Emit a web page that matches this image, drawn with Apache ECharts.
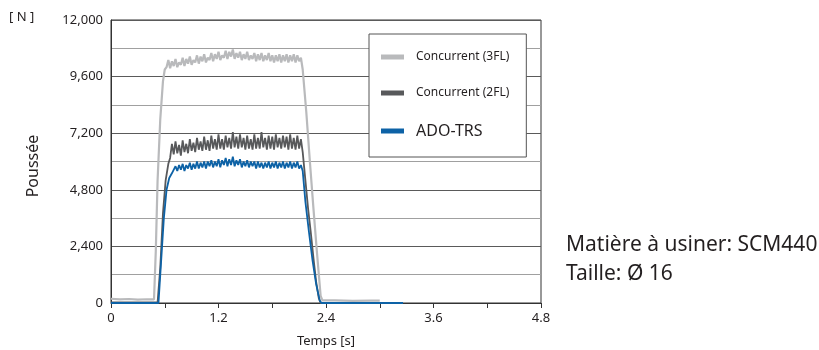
<!DOCTYPE html>
<html>
<head>
<meta charset="utf-8">
<script src="https://cdn.jsdelivr.net/npm/echarts@6/dist/echarts.min.js"></script>
<style>
  html, body { margin: 0; padding: 0; background: #fff; }
  #chart { width: 819px; height: 350px; }
</style>
</head>
<body>
<div id="chart"></div>
<script>
// 读图得到的数据 [时间 s, 推力 N]
const seriesNames = ["Concurrent (3FL)", "Concurrent (2FL)", "ADO-TRS"];
const seriesColors = ["#b9babc", "#58595b", "#0d62a6"];
const xTicks = [0, 1.2, 2.4, 3.6, 4.8];
const yTicks = [0, 2400, 4800, 7200, 9600, 12000];

const concurrent3FL = [
  [0, 180], [0.1, 150], [0.2, 170], [0.3, 140], [0.4, 160], [0.48, 150],
  [0.5, 2200], [0.52, 5200], [0.55, 7800], [0.58, 9400], [0.6, 9900],
  [0.62, 10000], [0.64, 10300], [0.66, 9950], [0.68, 10250], [0.70, 10050],
  [0.72, 10350], [0.74, 10000], [0.76, 10200], [0.78, 10100], [0.80, 10400],
  [0.82, 10050], [0.84, 10350], [0.86, 10150], [0.88, 10450], [0.90, 10100],
  [0.92, 10300], [0.94, 10200], [0.96, 10500], [0.98, 10150], [1.00, 10450],
  [1.02, 10250], [1.04, 10550], [1.06, 10200], [1.08, 10400], [1.10, 10300],
  [1.12, 10600], [1.14, 10250], [1.16, 10550], [1.18, 10350], [1.20, 10650],
  [1.22, 10300], [1.24, 10500], [1.26, 10400], [1.28, 10700], [1.30, 10350],
  [1.32, 10650], [1.34, 10450], [1.36, 10750], [1.38, 10350], [1.40, 10600],
  [1.42, 10400], [1.44, 10650], [1.46, 10300], [1.48, 10550], [1.50, 10350],
  [1.52, 10650], [1.54, 10300], [1.56, 10500], [1.58, 10350], [1.60, 10600],
  [1.62, 10250], [1.64, 10550], [1.66, 10300], [1.68, 10600], [1.70, 10250],
  [1.72, 10500], [1.74, 10300], [1.76, 10600], [1.78, 10250], [1.80, 10500],
  [1.82, 10200], [1.84, 10500], [1.86, 10250], [1.88, 10550], [1.90, 10200],
  [1.92, 10500], [1.94, 10250], [1.96, 10550], [1.98, 10200], [2.00, 10500],
  [2.02, 10250], [2.04, 10550], [2.06, 10200], [2.08, 10500], [2.10, 10250],
  [2.12, 10400], [2.14, 9900], [2.18, 8100], [2.22, 6000], [2.26, 4000],
  [2.30, 2100], [2.34, 300], [2.36, 110], [2.5, 110], [2.7, 90], [2.9, 100], [3.0, 100]
];

const concurrent2FL = [
  [0, 30], [0.2, 30], [0.4, 30], [0.52, 30],
  [0.55, 1500], [0.58, 3800], [0.61, 5200], [0.64, 5900],
  [0.66, 6150], [0.68, 6750], [0.70, 6300], [0.72, 6850], [0.74, 6350],
  [0.76, 6700], [0.78, 6250], [0.80, 6900], [0.82, 6400], [0.84, 6750],
  [0.86, 6350], [0.88, 6950], [0.90, 6450], [0.92, 6800], [0.94, 6400],
  [0.96, 7000], [0.98, 6500], [1.00, 6850], [1.02, 6450], [1.04, 7050],
  [1.06, 6500], [1.08, 6900], [1.10, 6450], [1.12, 7100], [1.14, 6550],
  [1.16, 6950], [1.18, 6500], [1.20, 7150], [1.22, 6550], [1.24, 6950],
  [1.26, 6500], [1.28, 7100], [1.30, 6600], [1.32, 7000], [1.34, 6550],
  [1.36, 7250], [1.38, 6600], [1.40, 7050], [1.42, 6550], [1.44, 7150],
  [1.46, 6600], [1.48, 7000], [1.50, 6500], [1.52, 7100], [1.54, 6550],
  [1.56, 6950], [1.58, 6500], [1.60, 7150], [1.62, 6550], [1.64, 7000],
  [1.66, 6550], [1.68, 7250], [1.70, 6600], [1.72, 7000], [1.74, 6500],
  [1.76, 7100], [1.78, 6550], [1.80, 7050], [1.82, 6500], [1.84, 7150],
  [1.86, 6600], [1.88, 7000], [1.90, 6550], [1.92, 7100], [1.94, 6600],
  [1.96, 7050], [1.98, 6500], [2.00, 7150], [2.02, 6550], [2.04, 7000],
  [2.06, 6500], [2.08, 7100], [2.10, 6550], [2.12, 6950], [2.14, 6400],
  [2.17, 5200], [2.20, 4000], [2.23, 3000], [2.26, 1900], [2.29, 900],
  [2.32, 200], [2.34, 0], [2.4, 0]
];

const adoTRS = [
  [0, 0], [0.2, 0], [0.4, 0], [0.53, 0],
  [0.56, 1800], [0.59, 3600], [0.62, 4800], [0.65, 5300], [0.68, 5500],
  [0.70, 5550], [0.72, 5800], [0.74, 5600], [0.76, 5850], [0.78, 5650],
  [0.80, 5900], [0.82, 5600], [0.84, 5850], [0.86, 5700], [0.88, 5950],
  [0.90, 5650], [0.92, 5900], [0.94, 5700], [0.96, 6000], [0.98, 5700],
  [1.00, 5950], [1.02, 5750], [1.04, 6000], [1.06, 5700], [1.08, 6000],
  [1.10, 5800], [1.12, 6050], [1.14, 5750], [1.16, 6000], [1.18, 5800],
  [1.20, 6100], [1.22, 5750], [1.24, 6050], [1.26, 5850], [1.28, 6150],
  [1.30, 5800], [1.32, 6100], [1.34, 5850], [1.36, 6200], [1.38, 5800],
  [1.40, 6050], [1.42, 5850], [1.44, 6100], [1.46, 5750], [1.48, 6000],
  [1.50, 5800], [1.52, 6050], [1.54, 5750], [1.56, 6000], [1.58, 5800],
  [1.60, 6000], [1.62, 5700], [1.64, 6000], [1.66, 5750], [1.68, 5950],
  [1.70, 5700], [1.72, 5950], [1.74, 5750], [1.76, 6000], [1.78, 5700],
  [1.80, 5950], [1.82, 5750], [1.84, 6000], [1.86, 5700], [1.88, 5950],
  [1.90, 5750], [1.92, 6000], [1.94, 5700], [1.96, 5950], [1.98, 5750],
  [2.00, 6000], [2.02, 5700], [2.04, 5950], [2.06, 5750], [2.08, 6000],
  [2.10, 5700], [2.12, 5850], [2.14, 5600], [2.17, 4300], [2.21, 3000],
  [2.25, 1800], [2.29, 800], [2.33, 100], [2.35, 0], [2.6, 0], [3.0, 0], [3.26, 0]
];

const FONT = "'Noto Sans', 'DejaVu Sans', sans-serif";
const chart = echarts.init(document.getElementById("chart"));

const option = {
  backgroundColor: "#fff",
  animation: false,
  textStyle: { fontFamily: FONT },
  grid: {
    left: 111, right: 278, top: 20, bottom: 47,
    show: true, borderColor: "#333", borderWidth: 1, backgroundColor: "transparent"
  },
  legend: {
    left: 369, top: 34,
    orient: "vertical",
    backgroundColor: "#fff",
    borderColor: "#555", borderWidth: 1,
    padding: [17, 17, 18, 12],
    itemGap: 24,
    itemWidth: 23, itemHeight: 5,
    data: seriesNames.map((n) => ({ name: n, icon: "rect" })),
    formatter: (name) => (name === "ADO-TRS" ? "{b|" + name + "}" : "{a|" + name + "}"),
    textStyle: {
      padding: [0, 0, 0, 7],
      rich: {
        a: { fontSize: 12, lineHeight: 14, color: "#231f20", fontFamily: FONT },
        b: { fontSize: 16, lineHeight: 18, color: "#231f20", fontFamily: FONT }
      }
    }
  },
  xAxis: {
    type: "value",
    min: 0, max: 4.8, interval: 1.2,
    axisLine: { lineStyle: { color: "#333", width: 1 } },
    axisTick: { show: true, length: 5, lineStyle: { color: "#333" } },
    minorTick: { show: true, splitNumber: 2, length: 5, lineStyle: { color: "#333" } },
    splitLine: { show: false },
    axisLabel: {
      color: "#231f20", fontSize: 13, margin: 9,
      formatter: (v) => (xTicks.some((t) => Math.abs(t - v) < 1e-6) ? (v === 0 ? "0" : v.toFixed(1)) : "")
    }
  },
  yAxis: {
    type: "value",
    min: 0, max: 12000, interval: 2400,
    axisLine: { show: true, lineStyle: { color: "#333", width: 1 } },
    axisTick: { show: false },
    splitLine: { show: true, lineStyle: { color: "#5a5a5a", width: 1 } },
    minorTick: { show: false, splitNumber: 2 },
    minorSplitLine: { show: true, lineStyle: { color: "#a0a0a0", width: 1 } },
    axisLabel: {
      color: "#231f20", fontSize: 13, margin: 8,
      formatter: (v) => (yTicks.includes(v) ? v.toLocaleString("en-US") : "")
    }
  },
  graphic: [
    { type: "text", left: 9, top: 11, style: { text: "[ N ]", fontSize: 13, fill: "#231f20", fontFamily: FONT } },
    {
      type: "text", x: 33, y: 166, rotation: Math.PI / 2,
      style: { text: "Poussée", fontSize: 16, fill: "#231f20", fontFamily: FONT, align: "center", verticalAlign: "middle" }
    },
    {
      type: "text", x: 326, y: 341,
      style: { text: "Temps [s]", fontSize: 13, fill: "#231f20", fontFamily: FONT, align: "center", verticalAlign: "middle" }
    },
    {
      type: "text", x: 566, y: 245,
      style: { text: "Matière à usiner: SCM440", fontSize: 21, fill: "#231f20", fontFamily: FONT, verticalAlign: "middle" }
    },
    {
      type: "text", x: 566, y: 274,
      style: { text: "Taille: Ø 16", fontSize: 21, fill: "#231f20", fontFamily: FONT, verticalAlign: "middle" }
    }
  ],
  series: [
    { name: seriesNames[0], type: "line", data: concurrent3FL, symbol: "none", color: seriesColors[0], lineStyle: { width: 2.2, color: seriesColors[0] }, z: 2 },
    { name: seriesNames[1], type: "line", data: concurrent2FL, symbol: "none", color: seriesColors[1], lineStyle: { width: 1.8, color: seriesColors[1] }, z: 3 },
    { name: seriesNames[2], type: "line", data: adoTRS, symbol: "none", color: seriesColors[2], lineStyle: { width: 1.8, color: seriesColors[2] }, z: 4 }
  ]
};

chart.setOption(option);
</script>
</body>
</html>
